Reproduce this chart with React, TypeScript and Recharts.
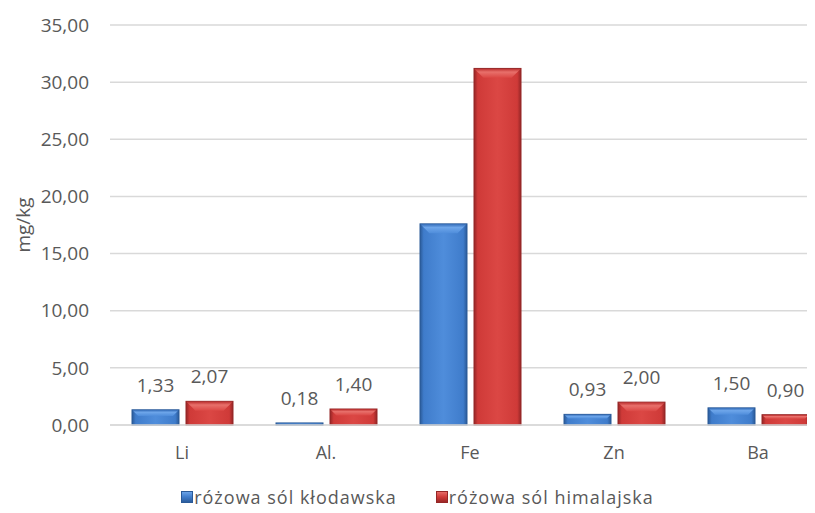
import React from 'react';
import { BarChart, Bar, XAxis, YAxis, CartesianGrid, Legend, LabelList } from 'recharts';

// Element concentrations (mg/kg) in two kinds of pink salt
const categories = ['Li', 'Al.', 'Fe', 'Zn', 'Ba'];
const klodawska = [1.33, 0.18, 17.6, 0.93, 1.5];
const himalajska = [2.07, 1.4, 31.2, 2.0, 0.9];
const showValue = [true, true, false, true, true];
const yTicks = [0, 5, 10, 15, 20, 25, 30, 35];
const seriesNames = ['różowa sól kłodawska', 'różowa sól himalajska'];

const data = categories.map((name, i) => ({
  name,
  klodawska: klodawska[i],
  himalajska: himalajska[i],
  showValue: showValue[i],
}));

const FONT = '"Open Sans", "Noto Sans", sans-serif';
const TEXT = '#595959';
const GRID = '#d9d9d9';

type Tone = { id: string; edge: string; main: string; light: string; top: string; topEdge: string };
const tones: Record<string, Tone> = {
  klodawska: { id: 'kl', edge: '#2a5a98', main: '#3f7ccb', light: '#4f8ddb', top: '#6ea6ea', topEdge: '#3a72bd' },
  himalajska: { id: 'hi', edge: '#952626', main: '#cf3a38', light: '#db4744', top: '#e8706b', topEdge: '#c03433' },
};

const fmt = (v: number) => v.toFixed(2).replace('.', ',');

function BevelBar(props: any) {
  const { x, y, width, height, tone } = props as { x: number; y: number; width: number; height: number; tone: Tone };
  if (!height || height <= 0) return null;
  const w = width;
  const h = height;
  const b = Math.max(0.5, Math.min(10, h * 0.4, w * 0.2));
  return (
    <g>
      <rect x={x} y={y} width={w} height={h} fill={`url(#side-${tone.id})`} stroke={tone.edge} strokeWidth={1} />
      <polygon
        points={`${x + 0.5},${y + 0.5} ${x + w - 0.5},${y + 0.5} ${x + w - b},${y + b} ${x + b},${y + b}`}
        fill={`url(#top-${tone.id})`}
      />
    </g>
  );
}

function ValueLabel(props: any) {
  const { x, y, width, value, index } = props;
  if (!data[index]?.showValue) return null;
  return (
    <text x={x + width / 2} y={y - 18} textAnchor="middle" fontFamily={FONT} fontSize={19} fill={TEXT}>
      {fmt(value)}
    </text>
  );
}

function CategoryTick(props: any) {
  const { x, y, payload } = props;
  return (
    <text x={x} y={y + 28} dy="0.35em" textAnchor="middle" fontFamily={FONT} fontSize={18} fill={TEXT}>
      {payload.value}
    </text>
  );
}

function SwatchIcon({ tone }: { tone: Tone }) {
  return (
    <svg width={12} height={12} style={{ display: 'block' }}>
      <defs>
        <linearGradient id={`lg-${tone.id}`} x1="0" y1="0" x2="0" y2="1">
          <stop offset="0" stopColor={tone.top} />
          <stop offset="0.5" stopColor={tone.main} />
          <stop offset="1" stopColor={tone.edge} />
        </linearGradient>
      </defs>
      <rect x={0.5} y={0.5} width={11} height={11} fill={`url(#lg-${tone.id})`} stroke={tone.edge} />
    </svg>
  );
}

function LegendContent() {
  const items = [
    { name: seriesNames[0], tone: tones.klodawska },
    { name: seriesNames[1], tone: tones.himalajska },
  ];
  return (
    <div style={{ display: 'flex', justifyContent: 'center', alignItems: 'center', height: 20, paddingLeft: 12, gap: 39 }}>
      {items.map((it) => (
        <div key={it.name} style={{ display: 'flex', alignItems: 'center', gap: 1 }}>
          <SwatchIcon tone={it.tone} />
          <span style={{ fontFamily: FONT, fontSize: 18, letterSpacing: 1, color: TEXT, whiteSpace: 'nowrap' }}>{it.name}</span>
        </div>
      ))}
    </div>
  );
}

function gradientDefs() {
  return Object.values(tones).map((t) => (
    <React.Fragment key={t.id}>
      <linearGradient id={`side-${t.id}`} x1="0" y1="0" x2="1" y2="0">
        <stop offset="0" stopColor={t.edge} />
        <stop offset="0.08" stopColor={t.main} />
        <stop offset="0.5" stopColor={t.light} />
        <stop offset="0.92" stopColor={t.main} />
        <stop offset="1" stopColor={t.edge} />
      </linearGradient>
      <linearGradient id={`top-${t.id}`} x1="0" y1="0" x2="0" y2="1">
        <stop offset="0" stopColor={t.topEdge} />
        <stop offset="0.35" stopColor={t.top} />
        <stop offset="1" stopColor={t.light} />
      </linearGradient>
    </React.Fragment>
  ));
}

export default function App() {
  return (
    <div style={{ width: 807, height: 505, overflow: 'hidden', background: '#fff' }}>
      <BarChart
        width={830}
        height={505}
        data={data}
        margin={{ top: 17, right: 8, left: 0, bottom: 6 }}
        barSize={47}
        barGap={7}
      >
        <defs>{gradientDefs()}</defs>
        <CartesianGrid horizontal vertical={false} stroke={GRID} strokeWidth={1.5} />
        <XAxis
          dataKey="name"
          axisLine={{ stroke: GRID, strokeWidth: 1.5 }}
          tickLine={false}
          tickSize={0}
          tickMargin={0}
          height={62}
          tick={<CategoryTick />}
          interval={0}
        />
        <YAxis
          width={102}
          domain={[0, 35]}
          ticks={yTicks}
          axisLine={false}
          tickLine={false}
          tickSize={0}
          tickMargin={21}
          tickFormatter={fmt}
          tick={{ fontFamily: FONT, fontSize: 19, fill: TEXT }}
          label={({ viewBox }: any) => {
            const cy = viewBox.y + viewBox.height / 2;
            return (
              <text
                x={15}
                y={cy}
                transform={`rotate(-90, 15, ${cy})`}
                textAnchor="middle"
                dominantBaseline="central"
                fontFamily={FONT}
                fontSize={19}
                fill={TEXT}
              >
                mg/kg
              </text>
            );
          }}
        />
        <Legend
          verticalAlign="bottom"
          height={20}
          content={<LegendContent />}
          wrapperStyle={{ left: 0, width: 807 }}
        />
        <Bar
          dataKey="klodawska"
          name={seriesNames[0]}
          isAnimationActive={false}
          shape={(p: any) => <BevelBar {...p} tone={tones.klodawska} />}
        >
          <LabelList dataKey="klodawska" content={<ValueLabel />} />
        </Bar>
        <Bar
          dataKey="himalajska"
          name={seriesNames[1]}
          isAnimationActive={false}
          shape={(p: any) => <BevelBar {...p} tone={tones.himalajska} />}
        >
          <LabelList dataKey="himalajska" content={<ValueLabel />} />
        </Bar>
      </BarChart>
    </div>
  );
}
